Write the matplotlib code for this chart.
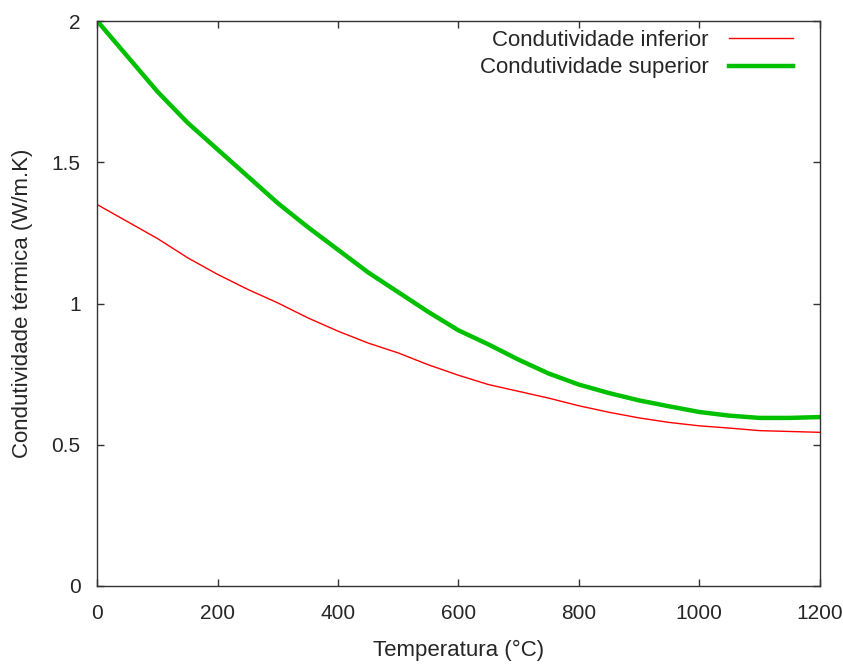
import matplotlib
matplotlib.use("Agg")
import matplotlib.pyplot as plt
from matplotlib.ticker import FuncFormatter

temperatura = [0, 50, 100, 150, 200, 250, 300, 350, 400, 450, 500, 550, 600,
               650, 700, 750, 800, 850, 900, 950, 1000, 1050, 1100, 1150, 1200]
cond_inferior = [1.35, 1.29, 1.23, 1.162, 1.103, 1.05, 1.002, 0.949, 0.902, 0.860, 0.825, 0.783, 0.746,
                 0.713, 0.689, 0.665, 0.638, 0.615, 0.595, 0.579, 0.567, 0.559, 0.550, 0.547, 0.544]
cond_superior = [2.0, 1.875, 1.75, 1.64, 1.545, 1.45, 1.355, 1.27, 1.19, 1.11, 1.04, 0.97, 0.905,
                 0.855, 0.801, 0.752, 0.713, 0.683, 0.657, 0.636, 0.616, 0.603, 0.595, 0.595, 0.598]
xticks = [0, 200, 400, 600, 800, 1000, 1200]
yticks = [0, 0.5, 1, 1.5, 2]

plt.rcParams['font.family'] = ['Liberation Sans', 'DejaVu Sans']
txt = '#262626'

fig = plt.figure(figsize=(8.43, 6.65), dpi=100)
ax = fig.add_axes([0.1154, 0.1188, 0.8569, 0.8496])

ax.plot(temperatura, cond_inferior, color='#ff0000', lw=1.0, label='Condutividade inferior')
ax.plot(temperatura, cond_superior, color='#00c000', lw=3.2, label='Condutividade superior')

ax.set_xlim(0, 1200)
ax.set_ylim(0, 2)
ax.set_xticks(xticks)
ax.set_yticks(yticks)
ax.yaxis.set_major_formatter(FuncFormatter(lambda v, p: f'{v:g}'))
ax.tick_params(direction='in', length=5, width=1, top=True, right=True,
               labelsize=15, labelcolor=txt, color='#333333')
ax.tick_params(axis='x', pad=13)
ax.tick_params(axis='y', pad=12)
for s in ax.spines.values():
    s.set_color('#333333')
    s.set_linewidth(1)

ax.set_xlabel('Temperatura (°C)', fontsize=16, color=txt, labelpad=12)
ax.set_ylabel('Condutividade térmica (W/m.K)', fontsize=16, color=txt, labelpad=13)

leg = ax.legend(loc='upper right', frameon=False, markerfirst=False, fontsize=16,
                handlelength=2.9, handletextpad=0.9, labelspacing=0.29,
                borderaxespad=0.0, bbox_to_anchor=(0.9756, 1.0))
for t in leg.get_texts():
    t.set_color(txt)
    t.set_ha('right')

fig.savefig('out.png', dpi=100)
